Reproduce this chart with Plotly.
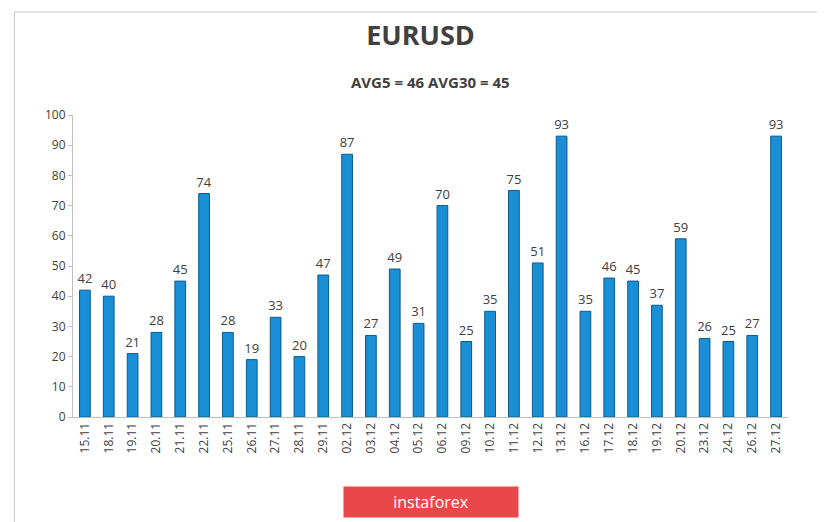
import plotly.graph_objects as go

dates = ["15.11","18.11","19.11","20.11","21.11","22.11","25.11","26.11","27.11","28.11","29.11","02.12","03.12","04.12","05.12","06.12","09.12","10.12","11.12","12.12","13.12","16.12","17.12","18.12","19.12","20.12","23.12","24.12","26.12","27.12"]
values = [42,40,21,28,45,74,28,19,33,20,47,87,27,49,31,70,25,35,75,51,93,35,46,45,37,59,26,25,27,93]
yticks = list(range(0, 101, 10))

fig = go.Figure(go.Bar(
    x=dates, y=values, text=values, textposition="outside", constraintext="none",
    textfont=dict(size=13, color="#404040", family="Open Sans"),
    marker=dict(color="#1a8fd6", line=dict(color="#0b5a8e", width=1)),
    width=0.45, cliponaxis=False,
))
fig.update_layout(
    width=825, height=522, paper_bgcolor="white", plot_bgcolor="white",
    margin=dict(l=65, r=45, t=107, b=113),
    title=dict(text="<b>EURUSD</b>", x=0.5, y=0.965, yanchor="top", xanchor="center",
               font=dict(size=27, color="#404040", family="Open Sans")),
    showlegend=False, font=dict(family="Open Sans", color="#404040"),
    shapes=[dict(type="rect", xref="paper", yref="paper", x0=-0.082, x1=1.058, y0=-0.367, y1=1.341,
                 line=dict(color="#c8c8c8", width=1))],
    annotations=[
        dict(text="<b>AVG5 = 46 AVG30 = 45</b>", xref="paper", yref="paper", x=0.5, y=1.15,
             showarrow=False, font=dict(size=15, color="#404040")),
        dict(text="instaforex", xref="paper", yref="paper", x=0.5, y=-0.335, showarrow=False,
             bgcolor="#e8484a", width=172, height=28, font=dict(size=16, color="white"))
    ],
)
fig.update_yaxes(range=[0, 100], tickvals=yticks, showgrid=False, showline=True,
                 linecolor="#bfbfbf", ticks="outside", ticklen=4, tickcolor="#bfbfbf",
                 tickfont=dict(size=12, color="#404040"))
fig.update_xaxes(showline=True, linecolor="#bfbfbf", tickangle=-90,
                 tickfont=dict(size=12, color="#404040"))
fig.write_html("out.html")
